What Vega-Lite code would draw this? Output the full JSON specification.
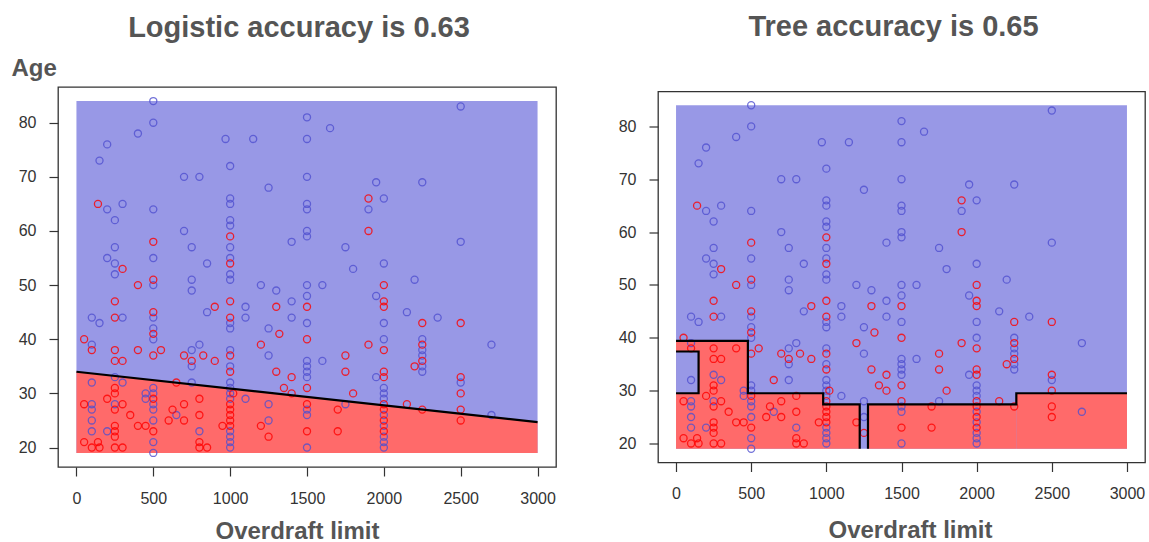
{
  "$schema": "https://vega.github.io/schema/vega-lite/v6.json",
  "background": "white",
  "padding": {"left": 10, "top": 11, "right": 4, "bottom": 3},
  "spacing": 102,
  "bounds": "flush",
  "center": true,
  "config": {
    "font": "Liberation Sans",
    "view": {"stroke": "#333333", "strokeWidth": 1.3},
    "axis": {"domain": false, "grid": false, "tickColor": "#333333", "tickWidth": 1.2, "tickSize": 9, "labelFont": "Liberation Sans", "labelFontSize": 16, "labelColor": "#333333", "labelFlush": false, "format": "d", "titleFont": "Liberation Sans", "titleFontSize": 24, "titleFontWeight": "bold", "titleColor": "#555555"},
    "axisX": {"labelPadding": 14, "labelAngle": 0},
    "axisY": {"labelPadding": 13},
    "title": {"font": "Liberation Sans", "fontSize": 29, "fontWeight": "bold", "color": "#555555"}
  },
  "datasets": {
    "pts": [
      {"od":500,"age":84,"c":"b"},{"od":500,"age":80,"c":"b"},{"od":400,"age":78,"c":"b"},{"od":200,"age":76,"c":"b"},{"od":150,"age":73,"c":"b"},{"od":200,"age":64,"c":"b"},{"od":300,"age":65,"c":"b"},{"od":500,"age":64,"c":"b"},{"od":250,"age":62,"c":"b"},{"od":700,"age":70,"c":"b"},{"od":800,"age":70,"c":"b"},{"od":970,"age":77,"c":"b"},{"od":1150,"age":77,"c":"b"},{"od":1000,"age":72,"c":"b"},{"od":1250,"age":68,"c":"b"},{"od":1000,"age":66,"c":"b"},{"od":1000,"age":65,"c":"b"},{"od":700,"age":60,"c":"b"},{"od":1000,"age":62,"c":"b"},{"od":1000,"age":61,"c":"b"},{"od":250,"age":57,"c":"b"},{"od":750,"age":57,"c":"b"},{"od":1000,"age":57,"c":"b"},{"od":1400,"age":58,"c":"b"},{"od":200,"age":55,"c":"b"},{"od":250,"age":54,"c":"b"},{"od":250,"age":52,"c":"b"},{"od":500,"age":55,"c":"b"},{"od":850,"age":54,"c":"b"},{"od":1000,"age":55,"c":"b"},{"od":750,"age":51,"c":"b"},{"od":1000,"age":52,"c":"b"},{"od":1000,"age":51,"c":"b"},
      {"od":100,"age":44,"c":"b"},{"od":150,"age":43,"c":"b"},{"od":300,"age":44,"c":"b"},{"od":500,"age":44,"c":"b"},{"od":500,"age":42,"c":"b"},{"od":500,"age":40,"c":"b"},{"od":100,"age":39,"c":"b"},{"od":750,"age":38,"c":"b"},{"od":750,"age":35,"c":"b"},{"od":800,"age":39,"c":"b"},{"od":850,"age":45,"c":"b"},{"od":1000,"age":43,"c":"b"},{"od":1000,"age":42,"c":"b"},{"od":1100,"age":46,"c":"b"},{"od":1100,"age":44,"c":"b"},{"od":1000,"age":38,"c":"b"},{"od":1000,"age":35,"c":"b"},{"od":1000,"age":32,"c":"b"},{"od":1000,"age":31,"c":"b"},{"od":1250,"age":42,"c":"b"},{"od":1250,"age":37,"c":"b"},{"od":1400,"age":47,"c":"b"},{"od":1400,"age":44,"c":"b"},{"od":1100,"age":29,"c":"b"},{"od":1250,"age":28,"c":"b"},{"od":1250,"age":25,"c":"b"},
      {"od":100,"age":32,"c":"b"},{"od":250,"age":33,"c":"b"},{"od":300,"age":32,"c":"b"},{"od":250,"age":28,"c":"b"},{"od":100,"age":28,"c":"b"},{"od":100,"age":27,"c":"b"},{"od":100,"age":25,"c":"b"},{"od":100,"age":23,"c":"b"},{"od":200,"age":23,"c":"b"},{"od":450,"age":30,"c":"b"},{"od":450,"age":29,"c":"b"},{"od":500,"age":31,"c":"b"},{"od":500,"age":30,"c":"b"},{"od":500,"age":28,"c":"b"},{"od":500,"age":27,"c":"b"},{"od":500,"age":25,"c":"b"},{"od":500,"age":21,"c":"b"},{"od":500,"age":19,"c":"b"},{"od":650,"age":26,"c":"b"},{"od":800,"age":23,"c":"b"},{"od":1000,"age":30,"c":"b"},{"od":1000,"age":29,"c":"b"},{"od":1000,"age":23,"c":"b"},{"od":1000,"age":22,"c":"b"},{"od":1000,"age":21,"c":"b"},{"od":1000,"age":20,"c":"b"},
      {"od":1500,"age":43,"c":"b"},{"od":1500,"age":36,"c":"b"},{"od":1500,"age":35,"c":"b"},{"od":1500,"age":34,"c":"b"},{"od":1500,"age":33,"c":"b"},{"od":1500,"age":27,"c":"b"},{"od":1500,"age":26,"c":"b"},{"od":1500,"age":20,"c":"b"},{"od":1600,"age":36,"c":"b"},{"od":1750,"age":28,"c":"b"},{"od":1950,"age":33,"c":"b"},{"od":2000,"age":43,"c":"b"},{"od":2000,"age":40,"c":"b"},{"od":2000,"age":31,"c":"b"},{"od":2000,"age":30,"c":"b"},{"od":2000,"age":29,"c":"b"},{"od":2000,"age":26,"c":"b"},{"od":2000,"age":24,"c":"b"},{"od":2000,"age":22,"c":"b"},{"od":2000,"age":21,"c":"b"},{"od":2000,"age":20,"c":"b"},{"od":2150,"age":45,"c":"b"},{"od":2350,"age":44,"c":"b"},{"od":2250,"age":40,"c":"b"},{"od":2250,"age":38,"c":"b"},{"od":2250,"age":37,"c":"b"},{"od":2250,"age":35,"c":"b"},{"od":2250,"age":34,"c":"b"},{"od":2500,"age":32,"c":"b"},{"od":2700,"age":39,"c":"b"},{"od":2700,"age":26,"c":"b"},
      {"od":2500,"age":83,"c":"b"},{"od":1500,"age":81,"c":"b"},{"od":1650,"age":79,"c":"b"},{"od":1500,"age":77,"c":"b"},{"od":1500,"age":70,"c":"b"},{"od":1950,"age":69,"c":"b"},{"od":2250,"age":69,"c":"b"},{"od":2000,"age":66,"c":"b"},{"od":1500,"age":65,"c":"b"},{"od":1500,"age":64,"c":"b"},{"od":1900,"age":64,"c":"b"},{"od":1500,"age":60,"c":"b"},{"od":1500,"age":59,"c":"b"},{"od":2500,"age":58,"c":"b"},{"od":1750,"age":57,"c":"b"},{"od":2000,"age":54,"c":"b"},{"od":1800,"age":53,"c":"b"},{"od":2200,"age":51,"c":"b"},{"od":1500,"age":50,"c":"b"},{"od":1500,"age":48,"c":"b"},{"od":1600,"age":50,"c":"b"},{"od":1950,"age":48,"c":"b"},{"od":500,"age":50,"c":"b"},{"od":750,"age":49,"c":"b"},{"od":1200,"age":50,"c":"b"},{"od":1300,"age":49,"c":"b"},{"od":750,"age":32,"c":"b"},
      {"od":140,"age":65,"c":"r"},{"od":1000,"age":59,"c":"r"},{"od":500,"age":58,"c":"r"},{"od":300,"age":53,"c":"r"},{"od":1000,"age":54,"c":"r"},{"od":500,"age":51,"c":"r"},
      {"od":250,"age":47,"c":"r"},{"od":250,"age":44,"c":"r"},{"od":500,"age":45,"c":"r"},{"od":500,"age":41,"c":"r"},{"od":50,"age":40,"c":"r"},{"od":100,"age":38,"c":"r"},{"od":250,"age":38,"c":"r"},{"od":250,"age":36,"c":"r"},{"od":300,"age":36,"c":"r"},{"od":400,"age":38,"c":"r"},{"od":500,"age":37,"c":"r"},{"od":550,"age":38,"c":"r"},{"od":700,"age":37,"c":"r"},{"od":750,"age":36,"c":"r"},{"od":825,"age":37,"c":"r"},{"od":900,"age":46,"c":"r"},{"od":900,"age":36,"c":"r"},{"od":1000,"age":47,"c":"r"},{"od":1000,"age":44,"c":"r"},{"od":1000,"age":37,"c":"r"},{"od":1000,"age":34,"c":"r"},{"od":1200,"age":39,"c":"r"},{"od":1300,"age":46,"c":"r"},{"od":1320,"age":41,"c":"r"},{"od":1300,"age":34,"c":"r"},{"od":1400,"age":33,"c":"r"},{"od":1350,"age":31,"c":"r"},{"od":1400,"age":30,"c":"r"},{"od":1200,"age":24,"c":"r"},{"od":1250,"age":22,"c":"r"},
      {"od":250,"age":31,"c":"r"},{"od":250,"age":30,"c":"r"},{"od":250,"age":27,"c":"r"},{"od":50,"age":28,"c":"r"},{"od":50,"age":21,"c":"r"},{"od":100,"age":20,"c":"r"},{"od":140,"age":21,"c":"r"},{"od":150,"age":20,"c":"r"},{"od":200,"age":29,"c":"r"},{"od":300,"age":28,"c":"r"},{"od":250,"age":24,"c":"r"},{"od":250,"age":23,"c":"r"},{"od":250,"age":22,"c":"r"},{"od":250,"age":20,"c":"r"},{"od":300,"age":20,"c":"r"},{"od":350,"age":26,"c":"r"},{"od":400,"age":24,"c":"r"},{"od":450,"age":24,"c":"r"},{"od":500,"age":29,"c":"r"},{"od":500,"age":23,"c":"r"},{"od":600,"age":25,"c":"r"},{"od":625,"age":27,"c":"r"},{"od":650,"age":32,"c":"r"},{"od":700,"age":28,"c":"r"},{"od":700,"age":25,"c":"r"},{"od":800,"age":29,"c":"r"},{"od":800,"age":26,"c":"r"},{"od":800,"age":21,"c":"r"},{"od":800,"age":20,"c":"r"},{"od":850,"age":20,"c":"r"},{"od":950,"age":24,"c":"r"},{"od":1000,"age":28,"c":"r"},{"od":1000,"age":27,"c":"r"},{"od":1000,"age":26,"c":"r"},{"od":1000,"age":25,"c":"r"},{"od":1000,"age":24,"c":"r"},{"od":1020,"age":30,"c":"r"},
      {"od":1500,"age":46,"c":"r"},{"od":1500,"age":40,"c":"r"},{"od":1500,"age":31,"c":"r"},{"od":1500,"age":28,"c":"r"},{"od":1500,"age":23,"c":"r"},{"od":1750,"age":37,"c":"r"},{"od":1750,"age":34,"c":"r"},{"od":1800,"age":30,"c":"r"},{"od":1700,"age":27,"c":"r"},{"od":1700,"age":23,"c":"r"},{"od":1900,"age":39,"c":"r"},{"od":2000,"age":47,"c":"r"},{"od":2000,"age":46,"c":"r"},{"od":2000,"age":38,"c":"r"},{"od":2000,"age":34,"c":"r"},{"od":2000,"age":33,"c":"r"},{"od":2000,"age":28,"c":"r"},{"od":2000,"age":27,"c":"r"},{"od":2000,"age":25,"c":"r"},{"od":2000,"age":23,"c":"r"},{"od":2150,"age":28,"c":"r"},{"od":2250,"age":43,"c":"r"},{"od":2250,"age":39,"c":"r"},{"od":2250,"age":36,"c":"r"},{"od":2200,"age":35,"c":"r"},{"od":2250,"age":27,"c":"r"},{"od":2500,"age":43,"c":"r"},{"od":2500,"age":33,"c":"r"},{"od":2500,"age":30,"c":"r"},{"od":2500,"age":27,"c":"r"},{"od":2500,"age":25,"c":"r"},
      {"od":1900,"age":66,"c":"r"},{"od":1900,"age":60,"c":"r"},{"od":2000,"age":50,"c":"r"},{"od":400,"age":50,"c":"r"}
    ]
  },
  "hconcat": [
    {
      "width": 498,
      "height": 380,
      "title": {"text": "Logistic accuracy is 0.63", "anchor": "middle", "dx": -8, "offset": -10, "baseline": "alphabetic"},
      "layer": [
        {
          "data": {"values": [{"x": 0, "x2": 3000, "y": 19, "y2": 84}]},
          "mark": {"type": "rect", "fill": "#9898e6"},
          "encoding": {
            "x": {"field": "x", "type": "quantitative", "scale": {"domain": [-120, 3120], "nice": false, "zero": false}, "axis": {"values": [0, 500, 1000, 1500, 2000, 2500, 3000], "title": "Overdraft limit", "titleX": 239, "titleY": 71, "titleAlign": "center", "titleBaseline": "alphabetic"}},
            "x2": {"field": "x2"},
            "y": {"field": "y", "type": "quantitative", "scale": {"domain": [16.4, 86.6], "nice": false, "zero": false}, "axis": {"values": [20, 30, 40, 50, 60, 70, 80], "title": "Age", "titleAngle": 0, "titleX": -47, "titleY": -12, "titleAlign": "left", "titleBaseline": "alphabetic"}},
            "y2": {"field": "y2"}
          }
        },
        {
          "data": {"values": [{"x": 0, "top": 34, "bot": 19}, {"x": 3000, "top": 24.7, "bot": 19}]},
          "mark": {"type": "area", "fill": "#ff6a6a"},
          "encoding": {
            "x": {"field": "x", "type": "quantitative"},
            "y": {"field": "top", "type": "quantitative"},
            "y2": {"field": "bot"}
          }
        },
        {
          "data": {"name": "pts"},
          "mark": {"type": "point", "shape": "circle", "filled": false, "size": 50, "strokeWidth": 1.3, "opacity": 0.8},
          "encoding": {
            "x": {"field": "od", "type": "quantitative"},
            "y": {"field": "age", "type": "quantitative"},
            "stroke": {"field": "c", "type": "nominal", "scale": {"domain": ["b", "r"], "range": ["#5050d0", "#ff0000"]}, "legend": null}
          }
        },
        {
          "data": {"values": [{"x": 0, "y": 34}, {"x": 3000, "y": 24.7}]},
          "mark": {"type": "line", "color": "black", "strokeWidth": 2.2},
          "encoding": {
            "x": {"field": "x", "type": "quantitative"},
            "y": {"field": "y", "type": "quantitative"}
          }
        }
      ]
    },
    {
      "width": 487,
      "height": 371,
      "title": {"text": "Tree accuracy is 0.65", "anchor": "middle", "dx": -8, "offset": 27, "baseline": "alphabetic"},
      "layer": [
        {
          "data": {"values": [{"x": 0, "x2": 3000, "y": 19, "y2": 84}]},
          "mark": {"type": "rect", "fill": "#9898e6"},
          "encoding": {
            "x": {"field": "x", "type": "quantitative", "scale": {"domain": [-120, 3120], "nice": false, "zero": false}, "axis": {"values": [0, 500, 1000, 1500, 2000, 2500, 3000], "title": "Overdraft limit", "titleX": 252, "titleY": 75, "titleAlign": "center", "titleBaseline": "alphabetic"}},
            "x2": {"field": "x2"},
            "y": {"field": "y", "type": "quantitative", "scale": {"domain": [16.4, 86.6], "nice": false, "zero": false}, "axis": {"values": [20, 30, 40, 50, 60, 70, 80], "title": null}},
            "y2": {"field": "y2"}
          }
        },
        {
          "data": {"values": [
            {"x": 0, "x2": 478, "y": 19, "y2": 39.4},
            {"x": 478, "x2": 979, "y": 19, "y2": 29.5},
            {"x": 979, "x2": 1222, "y": 19, "y2": 27.4},
            {"x": 1277, "x2": 2264, "y": 19, "y2": 27.4},
            {"x": 2264, "x2": 3000, "y": 19, "y2": 29.5}
          ]},
          "mark": {"type": "rect", "fill": "#ff6a6a"},
          "encoding": {
            "x": {"field": "x", "type": "quantitative"},
            "x2": {"field": "x2"},
            "y": {"field": "y", "type": "quantitative"},
            "y2": {"field": "y2"}
          }
        },
        {
          "data": {"values": [{"x": 0, "x2": 150, "y": 29.5, "y2": 37.4}]},
          "mark": {"type": "rect", "fill": "#9898e6"},
          "encoding": {
            "x": {"field": "x", "type": "quantitative"},
            "x2": {"field": "x2"},
            "y": {"field": "y", "type": "quantitative"},
            "y2": {"field": "y2"}
          }
        },
        {
          "data": {"name": "pts"},
          "mark": {"type": "point", "shape": "circle", "filled": false, "size": 50, "strokeWidth": 1.3, "opacity": 0.8},
          "encoding": {
            "x": {"field": "od", "type": "quantitative"},
            "y": {"field": "age", "type": "quantitative"},
            "stroke": {"field": "c", "type": "nominal", "scale": {"domain": ["b", "r"], "range": ["#5050d0", "#ff0000"]}, "legend": null}
          }
        },
        {
          "data": {"values": [
            {"p": "a", "o": 1, "x": 0, "y": 39.4},
            {"p": "a", "o": 2, "x": 478, "y": 39.4},
            {"p": "a", "o": 3, "x": 478, "y": 29.5},
            {"p": "a", "o": 4, "x": 979, "y": 29.5},
            {"p": "a", "o": 5, "x": 979, "y": 27.4},
            {"p": "a", "o": 6, "x": 1222, "y": 27.4},
            {"p": "a", "o": 7, "x": 1222, "y": 19},
            {"p": "b", "o": 1, "x": 1277, "y": 19},
            {"p": "b", "o": 2, "x": 1277, "y": 27.4},
            {"p": "b", "o": 3, "x": 2264, "y": 27.4},
            {"p": "b", "o": 4, "x": 2264, "y": 29.5},
            {"p": "b", "o": 5, "x": 3000, "y": 29.5},
            {"p": "c", "o": 1, "x": 0, "y": 37.4},
            {"p": "c", "o": 2, "x": 150, "y": 37.4},
            {"p": "c", "o": 3, "x": 150, "y": 29.5},
            {"p": "c", "o": 4, "x": 0, "y": 29.5}
          ]},
          "mark": {"type": "line", "color": "black", "strokeWidth": 2.2},
          "encoding": {
            "x": {"field": "x", "type": "quantitative"},
            "y": {"field": "y", "type": "quantitative"},
            "detail": {"field": "p", "type": "nominal"},
            "order": {"field": "o", "type": "quantitative"}
          }
        }
      ]
    }
  ]
}
